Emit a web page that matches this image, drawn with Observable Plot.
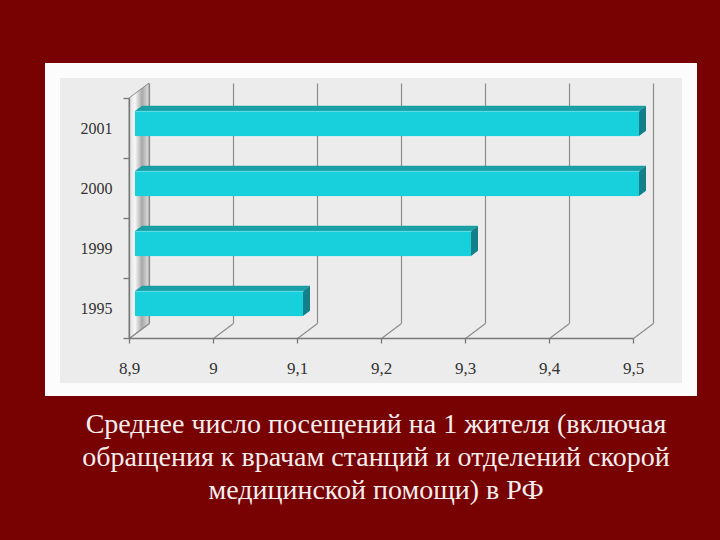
<!DOCTYPE html>
<html>
<head>
<meta charset="utf-8">
<script src="https://cdn.jsdelivr.net/npm/d3@7"></script>
<script src="https://cdn.jsdelivr.net/npm/@observablehq/plot@0.6"></script>
<style>
  html, body { margin: 0; padding: 0; }
  body { width: 720px; height: 540px; background: #780101; position: relative; overflow: hidden; }
  #panel { position: absolute; left: 45px; top: 63px; width: 652px; height: 333px; background: #fcfcfc; }
  #chart { position: absolute; left: 60px; top: 78px; width: 622px; height: 305px; }
  #caption { position: absolute; left: 16px; top: 407px; width: 720px; text-align: center;
    font-family: "Liberation Serif", "Times New Roman", serif; font-size: 28px; line-height: 33px; color: #f6eeee; }
</style>
</head>
<body>
<div id="panel"></div>
<div id="chart"></div>
<div id="caption">Среднее число посещений на 1 жителя (включая<br>обращения к врачам станций и отделений скорой<br>медицинской помощи) в РФ</div>
<script>
// ---- data ----
const years = ["2001", "2000", "1999", "1995"];
const visits = [9.5, 9.5, 9.3, 9.1];
const xTicks = [8.9, 9, 9.1, 9.2, 9.3, 9.4, 9.5];

// ---- 3D pseudo-depth (style constants) ----
const xMin = xTicks[0], xMax = xTicks[xTicks.length - 1];
const nCat = years.length;
const PXX = 1 / 840, PXY = 1 / 60;   // one pixel in x / y units
const DX = 20 * PXX;   // full depth, x units
const DY = 15 * PXY;   // full depth, y units
const d0 = 0.3, d1 = 0.65, h = 0.21;
const P = (x, y, d) => ({x: x + d * DX, y: y + d * DY});
const quad = (id, A, B, C, D) => [
  {id, x1: A.x, y1: A.y, x2: D.x, y2: D.y},
  {id, x1: B.x, y1: B.y, x2: C.x, y2: C.y}
];

const bars = years.map((yr, i) => ({yr, v: visits[i], c: nCat - 0.5 - i}));
const fronts = bars.map(b => {
  const a = P(xMin, b.c - h, d0), z = P(b.v, b.c + h, d0);
  return {x1: a.x, y1: a.y, x2: z.x, y2: z.y, yr: b.yr};
});
const tops = bars.flatMap(b => quad(b.yr,
  P(xMin, b.c + h, d0), P(b.v, b.c + h, d0), P(b.v, b.c + h, d1), P(xMin, b.c + h, d1)));
const sides = bars.flatMap(b => quad(b.yr,
  P(b.v, b.c - h, d0), P(b.v, b.c + h, d0), P(b.v, b.c + h, d1), P(b.v, b.c - h, d1)));
const wall = quad("wall", P(xMin, 0, 0), P(xMin, nCat, 0), P(xMin, nCat, 1), P(xMin, 0, 1));
const bands = d3.range(nCat + 1);

const fmt = d => String(+d.toFixed(1)).replace(".", ",");
const axisColor = "#777";

const plot = Plot.plot({
  width: 622, height: 305,
  marginLeft: 69, marginRight: 49, marginTop: 20, marginBottom: 45,
  style: {background: "#ececec", fontFamily: "Liberation Serif, serif", fontSize: "16px", color: "#333", overflow: "visible"},
  x: {type: "linear", domain: [xMin, xMax], axis: null},
  y: {type: "linear", domain: [0, nCat], axis: null},
  marks: [
    // back-wall vertical gridlines
    Plot.link(xTicks, {x1: d => d + DX, x2: d => d + DX, y1: () => DY, y2: () => nCat + DY, stroke: "#8c8c8c", strokeWidth: 1.2}),
    // floor diagonals
    Plot.link(xTicks, {x1: d => d, y1: () => 0, x2: d => d + DX, y2: () => DY, stroke: "#8c8c8c", strokeWidth: 1.2}),
    // left wall
    Plot.area(wall, {x1: "x1", y1: "y1", x2: "x2", y2: "y2", z: "id", fill: "url(#wallGrad)", stroke: "#8a8a8a", strokeWidth: 1}),
    // front axes
    Plot.link([0], {x1: () => xMin, x2: () => xMax, y1: d => d, y2: d => d, stroke: axisColor, strokeWidth: 1.3}),
    Plot.link([xMin], {x1: d => d, x2: d => d, y1: () => 0, y2: () => nCat, stroke: axisColor, strokeWidth: 1.3}),
    // short ticks below the x axis and left of the y axis
    Plot.link(xTicks, {x1: d => d, x2: d => d, y1: () => 0, y2: () => -5 * PXY, stroke: axisColor, strokeWidth: 1.3}),
    Plot.link(bands, {x1: () => xMin - 6 * PXX, x2: () => xMin, y1: d => d, y2: d => d, stroke: axisColor, strokeWidth: 1.3}),
    // bars
    Plot.area(tops, {x1: "x1", y1: "y1", x2: "x2", y2: "y2", z: "id", fill: "#1a9fa4"}),
    Plot.area(sides, {x1: "x1", y1: "y1", x2: "x2", y2: "y2", z: "id", fill: "#137f8b"}),
    Plot.rect(fronts, {x1: "x1", x2: "x2", y1: "y1", y2: "y2", fill: "#17d0dc"}),
    Plot.link(fronts, {x1: "x1", x2: "x2", y1: "y2", y2: "y2", stroke: "#63dde4", strokeWidth: 1}),
    // labels
    Plot.text(bars, {x: () => xMin, y: "c", text: "yr", dx: -17, textAnchor: "end", fill: "#333", fontSize: 16}),
    Plot.text(xTicks, {x: d => d, y: () => 0, text: fmt, dy: 30, fill: "#333", fontSize: 17})
  ]
});

d3.select(plot).append("defs").html(
  '<linearGradient id="wallGrad" x1="0" y1="0" x2="1" y2="0">' +
  '<stop offset="0" stop-color="#dcdcdc"/><stop offset="0.3" stop-color="#f8f8f8"/>' +
  '<stop offset="0.65" stop-color="#a8a8a8"/><stop offset="1" stop-color="#e0e0e0"/></linearGradient>');
document.getElementById("chart").appendChild(plot);
</script>
</body>
</html>
